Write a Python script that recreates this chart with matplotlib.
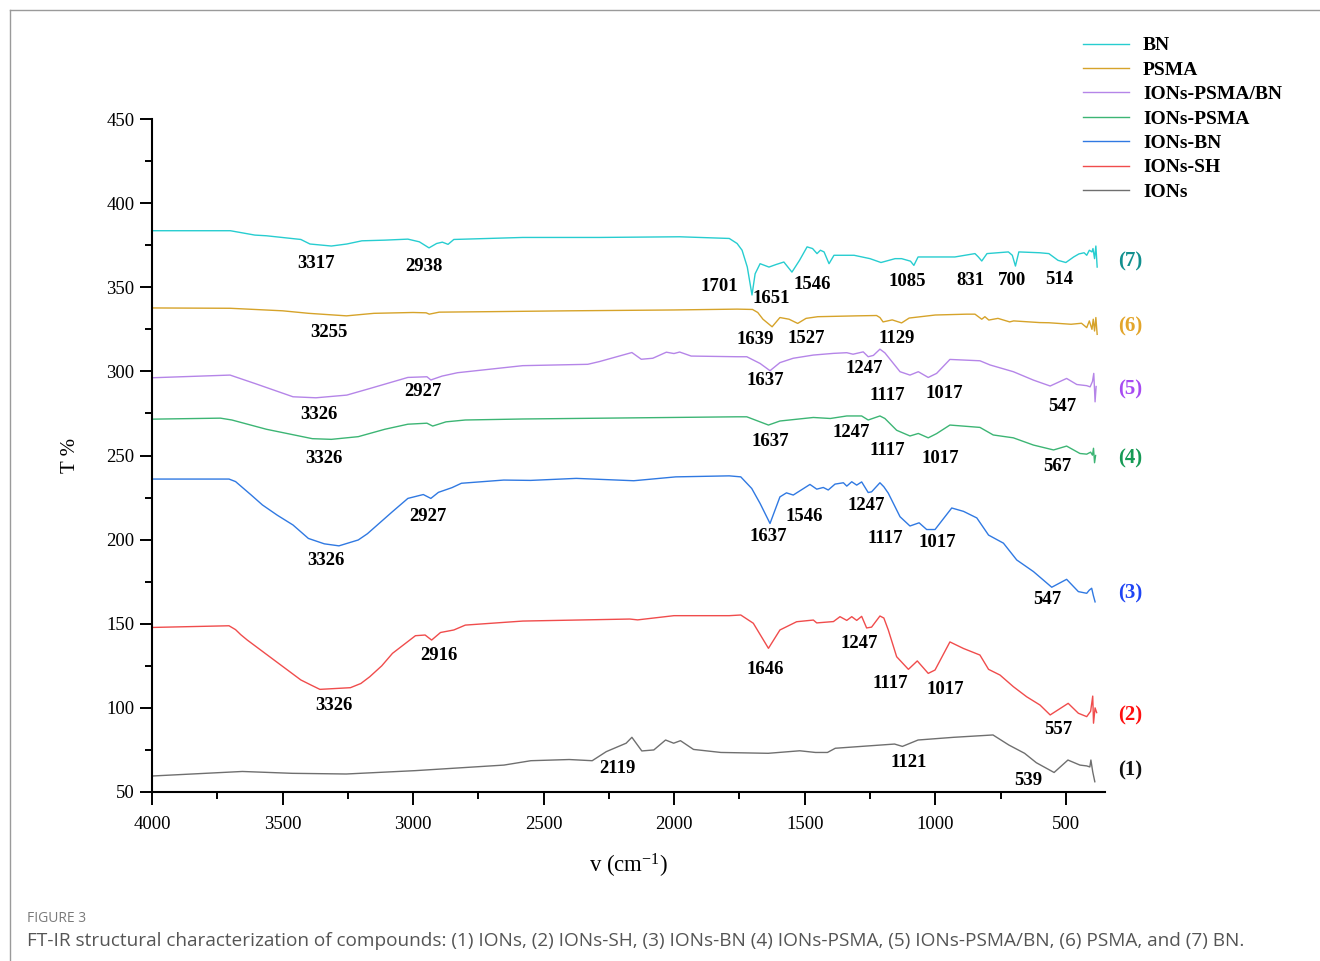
import numpy as np
import matplotlib
matplotlib.use("Agg")
import matplotlib.pyplot as plt
from matplotlib.lines import Line2D

plt.rcParams['font.family'] = ['Liberation Serif', 'DejaVu Serif']
plt.rcParams['mathtext.fontset'] = 'custom'
plt.rcParams['mathtext.rm'] = 'Liberation Serif'
plt.rcParams['mathtext.it'] = 'Liberation Serif'

# ============================
# Data (wavenumber cm-1, T %)
# ============================
bn_wn = [4000, 3700, 3606, 3562, 3430, 3395, 3313, 3254, 3196, 3108, 3020, 2976, 2939, 2910,
         2888, 2866, 2844, 2580, 2287, 1979, 1789, 1759, 1740, 1720, 1702, 1690, 1671, 1637,
         1610, 1580, 1549, 1520, 1491, 1470, 1453, 1440, 1426, 1407, 1388, 1311, 1250, 1208,
         1154, 1129, 1095, 1082, 1066, 925, 848, 835, 822, 802, 720, 705, 693, 680, 600, 565,
         530, 500, 470, 450, 430, 420, 410, 400, 396, 390, 385, 380]
bn_t = [383.6, 383.6, 381, 380.6, 378.4, 375.7, 374.5, 375.7, 377.6, 378, 378.6, 377, 373.4, 376,
        376.8, 375.5, 378.4, 379.6, 379.6, 380, 379, 376, 372, 362, 345.4, 358, 364, 362,
        363.5, 365, 359, 366, 374, 373, 370, 372, 371, 364, 369, 369, 367, 364.7,
        367, 367, 365.5, 363, 368, 368, 370, 368, 365.6, 370, 371, 369, 362.6, 371, 370.5, 370,
        366, 364.7, 368, 369.8, 370.5, 369, 372, 371, 373, 367, 374.5, 362]

psma_wn = [4000, 3700, 3500, 3400, 3255, 3150, 3000, 2950, 2938, 2900, 2700, 2400, 2000, 1759,
           1700, 1680, 1660, 1625, 1595, 1560, 1527, 1495, 1450, 1300, 1225, 1212, 1200, 1165,
           1129, 1100, 1000, 880, 848, 822, 810, 795, 760, 715, 700, 600, 565, 480, 440, 420,
           410, 400, 395, 390, 385, 380]
psma_t = [337.7, 337.5, 336, 334.5, 333, 334.5, 335, 334.8, 334, 335.2, 335.5, 336, 336.5, 337,
          336.8, 335, 331, 326.5, 332, 331, 328.5, 331.5, 332.5, 333, 333.2, 332, 329.4, 330.6,
          328.8, 331.7, 333.5, 334, 334, 331, 332.5, 330.5, 331.5, 329.4, 330, 329, 328.9, 328,
          328.6, 326, 330, 325, 331, 324, 332, 322]

ions_psma_bn_wn = [4000, 3701, 3606, 3460, 3372, 3254, 3166, 3020, 2947, 2932, 2889, 2830, 2580,
                   2331, 2287, 2162, 2126, 2082, 2030, 2001, 1979, 1935, 1759, 1722, 1671, 1633,
                   1595, 1544, 1467, 1390, 1339, 1315, 1276, 1257, 1237, 1212, 1193, 1135, 1097,
                   1065, 1027, 995, 944, 829, 790, 701, 624, 560, 497, 458, 420, 407, 398, 393,
                   388, 384]
ions_psma_bn_t = [296.2, 297.8, 292.8, 284.9, 284.3, 285.9, 289.8, 296.4, 296.8, 294.9, 297.2,
                  299.2, 303.4, 304.2, 305.8, 311.2, 307.2, 307.8, 311.4, 310.6, 311.5, 309.1,
                  308.7, 308.7, 304.7, 300.4, 305.2, 307.8, 309.7, 310.7, 311.1, 310.2, 311.6,
                  308.7, 309.5, 313.2, 311, 299.8, 297.8, 299.8, 296.4, 298.8, 307.1, 306.3,
                  303.8, 299.8, 294.8, 291.3, 295.8, 292.2, 291.5, 290.8, 294, 298.8, 281.9, 291]

ions_psma_wn = [4000, 3738, 3694, 3562, 3386, 3313, 3210, 3108, 3020, 2947, 2925, 2874, 2800,
                2580, 1759, 1722, 1639, 1595, 1467, 1402, 1339, 1282, 1257, 1212, 1193, 1148,
                1097, 1065, 1027, 995, 944, 829, 778, 701, 624, 547, 497, 446, 420, 405, 398,
                394, 390, 386]
ions_psma_t = [271.6, 272.2, 271.1, 265.6, 260, 259.6, 261.2, 265.6, 268.6, 269.2, 267.5, 270,
               271.1, 271.7, 273, 273, 268.1, 270.5, 272.6, 272, 273.5, 273.5, 271.1, 273.5,
               272, 265, 261.6, 263.1, 260.5, 263, 268.1, 266.7, 262.2, 260.5, 256.2, 253.3,
               255.6, 251.2, 250.8, 252, 250.2, 254.3, 245.7, 250]

ions_bn_wn = [4000, 3705, 3680, 3665, 3620, 3577, 3520, 3460, 3401, 3340, 3284, 3210, 3175,
              3137, 3080, 3020, 2961, 2932, 2903,
              2851, 2815, 2653, 2550, 2375, 2155, 1994, 1789, 1745, 1703, 1671, 1633, 1595,
              1570, 1544, 1480, 1454, 1429, 1410, 1384, 1352, 1339, 1320, 1301, 1282, 1257,
              1244, 1212, 1197, 1180, 1135, 1097, 1062, 1033, 1001, 937, 892, 841, 796, 739,
              688, 624, 554, 497, 452, 420, 410, 401, 395, 388]
ions_bn_t = [236, 236, 234.5, 232.5, 226.5, 220.6, 214.5, 208.7, 200.7, 197.5, 196.3, 199.8,
             203.5, 208.7, 216.5, 224.5, 226.8, 224.5,
             228.1, 230.9, 233.5, 235.4, 235.2, 236.4, 235, 237.3, 237.9, 237.3, 230.4, 221.5,
             209.6, 225.4, 227.8, 226.5, 232.8, 230, 231, 229.5, 233, 233.8, 231.8, 234.4,
             232.4, 234.3, 228, 228.4, 233.8, 231.4, 227.6, 213.6, 208.1, 210, 206, 206,
             218.8, 216.8, 212.9, 202.7, 197.9, 187.9, 181, 171.7, 176.4, 169.1, 168.1, 170,
             171.1, 167, 163]

ions_sh_wn = [4000, 3705, 3680, 3660, 3635, 3533, 3430, 3390, 3357, 3240, 3200, 3166, 3120,
              3079, 2991, 2954, 2929, 2895,
              2844, 2800, 2580, 2170, 2140, 2001, 1789, 1745, 1697, 1639, 1595, 1531, 1467,
              1454, 1390, 1365, 1339, 1320, 1301, 1282, 1263, 1244, 1212, 1197, 1180, 1148,
              1103, 1069, 1027, 1001, 944, 892, 829, 796, 752, 701, 650, 599, 560, 491, 452,
              420, 405, 397, 394, 388, 382]
ions_sh_t = [147.8, 148.8, 146.5, 143.5, 140.3, 128.5, 116.6, 113.5, 111, 112, 114.5, 118.5, 125,
             132.4, 142.9, 143.3, 140.3, 144.8,
             146.3, 149.2, 151.6, 152.8, 152.3, 154.8, 154.8, 155.2, 150.3, 135.4, 146.3,
             151.2, 152.2, 150.5, 151.3, 154.2, 152, 154.2, 152, 154.4, 147.5, 148, 154.6, 153.4,
             146.3, 130.4, 122.9, 127.9, 120.5, 122.5, 139.2, 135.3, 131.4, 122.9, 119.5, 112.6,
             106.6, 101.7, 95.8, 102.7, 96.8, 94.8, 98, 107, 90.9, 100, 97.2]

ions_wn = [4000, 3757, 3654, 3463, 3256, 2991, 2652, 2549, 2402, 2314, 2260, 2184, 2162, 2124,
           2078, 2033, 2002, 1976, 1926, 1821, 1640, 1519, 1459, 1413, 1383, 1156, 1126, 1066,
           930, 779, 718, 658, 613, 545, 492, 446, 420, 408, 404, 397, 389]
ions_t = [59.5, 61.4, 62.2, 61.1, 60.7, 62.7, 66, 68.6, 69.3, 68.6, 74, 79, 82.5, 74.4,
          75, 80.9, 79, 80.5, 75.3, 73.5, 73, 74.5, 73.5, 73.5, 76, 78.5, 77.1, 80.9,
          82.5, 83.9, 77.9, 73, 67.4, 61.6, 69, 66, 65.5, 64.9, 69, 62, 56.1]

series_names = ['BN', 'PSMA', 'IONs-PSMA/BN', 'IONs-PSMA', 'IONs-BN', 'IONs-SH', 'IONs']
series_wn = [bn_wn, psma_wn, ions_psma_bn_wn, ions_psma_wn, ions_bn_wn, ions_sh_wn, ions_wn]
series_t = [bn_t, psma_t, ions_psma_bn_t, ions_psma_t, ions_bn_t, ions_sh_t, ions_t]
line_colors = ['#27cdd0', '#d6a32a', '#b585e8', '#3cb574', '#3079e2', '#f04c4c', '#6f6f6f']
tag_colors = ['#12908f', '#e3a52a', '#a74bf2', '#169a55', '#1f45f5', '#ff1010', '#111111']
tags = ['(7)', '(6)', '(5)', '(4)', '(3)', '(2)', '(1)']
tag_t = [365.6, 326.4, 289.5, 248.5, 167.7, 95.2, 62.5]

# peak labels: (text, wavenumber position, T position)
peak_labels = [
    ('3317', 3372, 364.4), ('2938', 2958, 362.6), ('1701', 1828, 350.7), ('1651', 1629, 343.6),
    ('1546', 1472, 351.9), ('1085', 1108, 353.7), ('831', 867, 354.3), ('700', 706, 354.3),
    ('514', 526, 354.9),
    ('3255', 3322, 323.4), ('1639', 1691, 319.2), ('1527', 1495, 319.8), ('1129', 1147, 319.8),
    ('3326', 3360, 274.1), ('2927', 2962, 288.3), ('1637', 1652, 294.3), ('1247', 1273, 302.0),
    ('1117', 1185, 285.4), ('1017', 967, 286.6), ('547', 515, 279.4),
    ('3326', 3341, 248.5), ('1637', 1633, 258.6), ('1247', 1323, 263.4), ('1117', 1185, 252.7),
    ('1017', 982, 248.5), ('567', 534, 243.2),
    ('2927', 2943, 214.0), ('3326', 3334, 187.3), ('1637', 1641, 201.6), ('1546', 1503, 214.0),
    ('1247', 1265, 220.0), ('1117', 1193, 200.4), ('1017', 994, 198.0), ('547', 572, 164.7),
    ('2916', 2901, 131.4), ('3326', 3303, 101.7), ('1646', 1652, 123.1), ('1247', 1292, 138.0),
    ('1117', 1174, 114.2), ('1017', 963, 111.2), ('557', 530, 87.4),
    ('2119', 2219, 63.7), ('1121', 1101, 67.8), ('539', 645, 57.1),
]

# ============================
# Figure
# ============================
W, H = 1320, 961
fig = plt.figure(figsize=(W / 100, H / 100), dpi=100)
ax = fig.add_axes([152 / W, 1 - 792 / H, (1105 - 152) / W, (792 - 119) / H])

handles = []
for name, wn, t, c in zip(series_names, series_wn, series_t, line_colors):
    h, = ax.plot(wn, t, color=c, lw=1.0, label=name)
    handles.append(h)

ax.set_xlim(4000, 350)
ax.set_ylim(50, 450)
ax.set_xticks([4000, 3500, 3000, 2500, 2000, 1500, 1000, 500])
ax.set_xticks(np.arange(3750, 300, -500), minor=True)
ax.set_yticks(np.arange(50, 451, 50))
ax.set_yticks(np.arange(75, 450, 50), minor=True)
for s in ['top', 'right']:
    ax.spines[s].set_visible(False)
for s in ['left', 'bottom']:
    ax.spines[s].set_linewidth(1.5)
ax.tick_params(which='major', length=9, width=1.4, labelsize=13.5, direction='out')
ax.tick_params(which='minor', length=5, width=1.4, direction='out')
ax.tick_params(axis='x', pad=8)

ax.set_xlabel('v (cm$^{-1}$)', fontsize=16.5, labelpad=14)
ax.set_ylabel('T %', fontsize=15, labelpad=19)

for txt, x, y in peak_labels:
    ax.text(x, y, txt, ha='center', va='center', fontsize=13.5, fontweight='bold')

for tag, y, c in zip(tags, tag_t, tag_colors):
    ax.text(254, y, tag, ha='center', va='center', fontsize=15, fontweight='bold',
            color=c, clip_on=False)

fig.legend(handles=handles, loc='upper left', bbox_to_anchor=(1073 / W, 1 - 27 / H),
           frameon=False, prop={'weight': 'bold', 'size': 14}, handlelength=2.4,
           handletextpad=0.7, labelspacing=0.35, borderpad=0)

# page frame and caption
fig.add_artist(Line2D([10 / W, 1], [1 - 10 / H, 1 - 10 / H], color='#9a9a9a', lw=1.0))
fig.add_artist(Line2D([10 / W, 10 / W], [0, 1 - 10 / H], color='#9a9a9a', lw=1.0))
fig.text(27 / W, 1 - 918 / H, 'FIGURE 3', fontsize=10, color='#7a7a7a',
         family=['Open Sans', 'DejaVu Sans'], va='center')
fig.text(27 / W, 1 - 941 / H,
         'FT-IR structural characterization of compounds: (1) IONs, (2) IONs-SH, (3) IONs-BN '
         '(4) IONs-PSMA, (5) IONs-PSMA/BN, (6) PSMA, and (7) BN.',
         fontsize=13.7, color='#555555', family=['Open Sans', 'DejaVu Sans'], va='center')

fig.savefig('out.png', dpi=100)
